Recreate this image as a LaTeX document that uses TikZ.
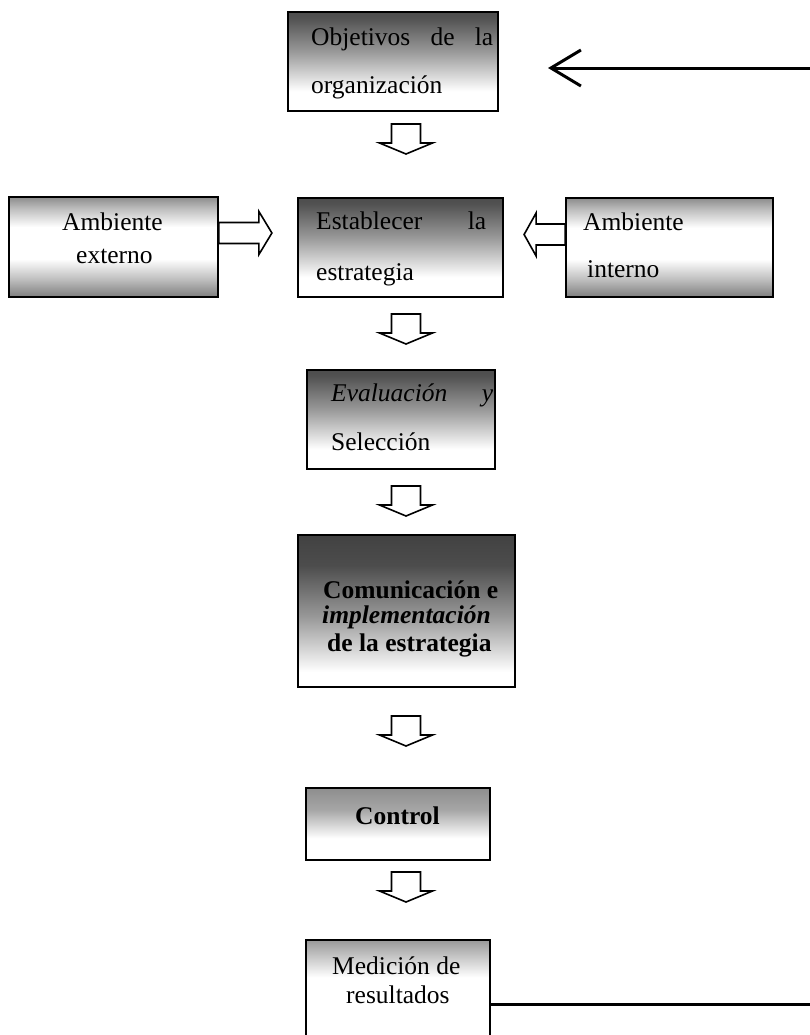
\documentclass[tikz,border=0pt]{standalone}
\usepackage{fontspec}
\setmainfont{Liberation Serif}
\usetikzlibrary{calc,arrows.meta}
\pgfdeclareverticalshading{shTop}{100bp}{color(0bp)=(white); color(35bp)=(white); color(55bp)=(black!40); color(72bp)=(black!68); color(100bp)=(black!85)}
\pgfdeclareverticalshading{shBoth}{100bp}{color(0bp)=(black!80); color(20bp)=(black!65); color(34bp)=(black!25); color(44bp)=(white); color(60bp)=(white); color(69bp)=(black!25); color(81bp)=(black!65); color(100bp)=(black!82)}
\pgfdeclareverticalshading{shCom}{100bp}{color(0bp)=(white); color(30bp)=(white); color(48bp)=(black!40); color(65bp)=(black!70); color(100bp)=(black!85)}
\pgfdeclareverticalshading{shCtl}{100bp}{color(0bp)=(white); color(40bp)=(white); color(60bp)=(black!35); color(100bp)=(black!60)}
\pgfdeclareverticalshading{shMed}{100bp}{color(0bp)=(white); color(58bp)=(white); color(75bp)=(black!40); color(100bp)=(black!65)}
\begin{document}
\begin{tikzpicture}[x=1bp,y=-1bp,
  box/.style={draw=black, line width=1.8bp, rectangle, inner sep=0pt, shade},
  txt/.style={inner sep=0pt, anchor=base west, font=\fontsize{25.5bp}{30bp}\selectfont},
  hollow/.style={draw=black, line width=1.6bp, fill=white, line join=miter},
  fb/.style={draw=black, line width=3bp},
  darrow/.pic={\draw[hollow] (-14.5,0) -- (14.5,0) -- (14.5,19) -- (26.5,19) -- (0,30) -- (-26.5,19) -- (-14.5,19) -- cycle;},
  rarrow/.pic={\draw[hollow] (0,-10.5) -- (40,-10.5) -- (40,-21.5) -- (53,0) -- (40,21.5) -- (40,10.5) -- (0,10.5) -- cycle;},
  larrow/.pic={\draw[hollow] (0,-10.5) -- (-29,-10.5) -- (-29,-21.5) -- (-41,0) -- (-29,21.5) -- (-29,10.5) -- (0,10.5) -- cycle;}
]
\useasboundingbox (0,0) rectangle (810,1035);
\begin{scope}
\clip (0,0) rectangle (810,1035);
\fill[white] (0,0) rectangle (810,1035);

% boxes
\node[box, shading=shTop, minimum width=210bp, minimum height=99bp] (b1) at (393,61.5) {};
\node[box, shading=shBoth, minimum width=209bp, minimum height=100bp] (ext) at (113.5,247) {};
\node[box, shading=shTop, minimum width=205bp, minimum height=99bp] (est) at (400.5,247.5) {};
\node[box, shading=shBoth, minimum width=207bp, minimum height=99bp] (int) at (669.5,247.5) {};
\node[box, shading=shTop, minimum width=188bp, minimum height=99bp] (eva) at (401,419.5) {};
\node[box, shading=shCom, minimum width=217bp, minimum height=152bp] (com) at (406.5,611) {};
\node[box, shading=shCtl, minimum width=184bp, minimum height=72bp] (ctl) at (398,824) {};
\node[box, shading=shMed, minimum width=184bp, minimum height=110bp] (med) at (398,995) {};

% texts
\node[txt] (t1a) at (311,45) {\makebox[182bp][s]{Objetivos de la}};
\node[txt] (t1b) at (311,93) {organización};
\node[txt] (tea) at (62,230) {Ambiente};
\node[txt] (teb) at (76,263) {externo};
\node[txt] (tsa) at (316,229) {\makebox[170bp][s]{Establecer la}};
\node[txt] (tsb) at (316,280) {estrategia};
\node[txt] (tia) at (583,230) {Ambiente};
\node[txt] (tib) at (587,277) {interno};
\node[txt] (tva) at (331,401) {\makebox[162bp][s]{\itshape Evaluación y}};
\node[txt] (tvb) at (331,450) {Selección};
\node[txt] (tca) at (323,598) {\bfseries Comunicación e};
\node[txt] (tcb) at (322,623) {\bfseries\itshape implementación};
\node[txt] (tcc) at (327,651) {\bfseries de la estrategia};
\node[txt] (tct) at (355,824) {\bfseries Control};
\node[txt] (tma) at (332,974) {Medición de};
\node[txt] (tmb) at (346,1003) {resultados};

% hollow block arrows
\pic at (406,124) {darrow};
\pic at (406,314) {darrow};
\pic at (406,486) {darrow};
\pic at (406,716) {darrow};
\pic at (406,872) {darrow};
\pic at ($(ext.east)+(0,-14)$) {rarrow};
\pic at ($(int.west)+(0,-13)$) {larrow};

% feedback line
\coordinate (fbB) at (810,1004);
\coordinate (fbT) at (810,68);
\coordinate (tip) at (548,68);
\draw[fb] ($(med.east)+(0,9)$) -- (fbB);
\draw[fb, -{Straight Barb[length=30bp,width=36bp,line width=3bp]}] (fbT) -- (tip);
\end{scope}
\end{tikzpicture}
\end{document}
